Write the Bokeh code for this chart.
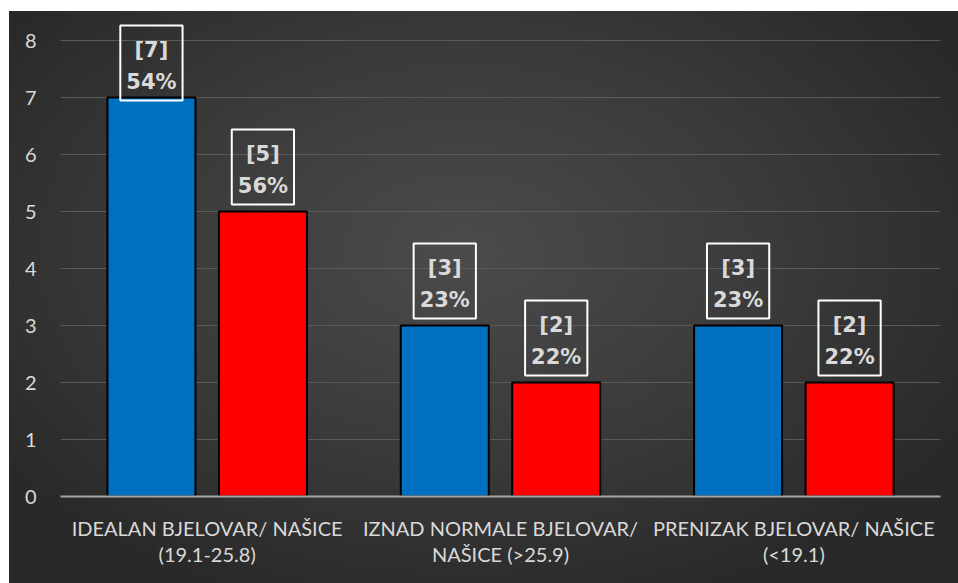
from bokeh.plotting import figure
from bokeh.models import FactorRange, Range1d, FixedTicker, ColumnDataSource
from bokeh.transform import dodge
from bokeh.core.properties import value
from bokeh.embed import file_html
from bokeh.resources import INLINE

categories = ["IDEALAN BJELOVAR/ NAŠICE\n(19.1-25.8)",
              "IZNAD NORMALE BJELOVAR/\nNAŠICE (>25.9)",
              "PRENIZAK BJELOVAR/ NAŠICE\n(<19.1)"]
bjelovar = [7, 3, 3]
nasice = [5, 2, 2]
bjelovar_pct = ["54%", "23%", "23%"]
nasice_pct = ["56%", "22%", "22%"]
y_ticks = [0, 1, 2, 3, 4, 5, 6, 7, 8]

TXT = "#d9d9d9"
PX_PER_UNIT = 57.0
Y_TOP = 8 + 17 / PX_PER_UNIT
BOX_H = 76

p = figure(x_range=FactorRange(*categories), y_range=Range1d(0, Y_TOP),
           width=949, height=572, output_backend="svg", toolbar_location=None,
           min_border_left=51, min_border_right=18, min_border_top=12, min_border_bottom=87)
p.margin = (11, 0, 0, 9)
p.background_fill_color = None
p.border_fill_color = None
p.outline_line_color = None
p.styles = {"background": "radial-gradient(ellipse 60% 65% at 48% 42%, #4b4b4b 0%, #3a3a3a 55%, #292929 100%)"}

def make_source(vals, pcts):
    labels = ["[%d]\n%s" % (v, s) for v, s in zip(vals, pcts)]
    offs = [max(-7.0, PX_PER_UNIT * v - (Y_TOP * PX_PER_UNIT - 1 - BOX_H)) for v in vals]
    return ColumnDataSource(dict(cat=categories, val=vals, label=labels, off=offs))

src_b = make_source(bjelovar, bjelovar_pct)
src_n = make_source(nasice, nasice_pct)

for src, d, col in ((src_b, -0.19, "#0070C0"), (src_n, 0.19, "#FF0000")):
    xd = dodge("cat", d, range=p.x_range)
    p.vbar(x=xd, top="val", width=0.30, source=src, fill_color=col,
           line_color="black", line_width=2)
    p.text(x=xd, y="val", text="label", source=src, y_offset="off",
           text_align="center", text_baseline="bottom",
           text_font=value("DejaVu Sans"), text_font_style="bold", text_font_size="21px",
           text_color=TXT, text_line_height=1.37,
           border_line_color="white", border_line_width=2,
           padding=dict(left=6, right=6, top=12, bottom=6))

p.yaxis.ticker = FixedTicker(ticks=y_ticks)
p.yaxis.axis_line_color = None
p.yaxis.major_tick_line_color = None
p.yaxis.minor_tick_line_color = None
p.yaxis.major_label_standoff = 18
p.yaxis.major_label_text_font = "Lato"
p.yaxis.major_label_text_font_size = "20px"
p.yaxis.major_label_text_color = TXT

p.xaxis.axis_line_color = "#a6a6a6"
p.xaxis.axis_line_width = 2
p.xaxis.major_tick_line_color = None
p.xaxis.minor_tick_line_color = None
p.xaxis.major_label_standoff = 13
p.xaxis.major_label_text_font = "Lato"
p.xaxis.major_label_text_font_size = "20px"
p.xaxis.major_label_text_line_height = 1.1
p.xaxis.major_label_text_color = TXT
p.xaxis.major_label_orientation = "horizontal"

p.xgrid.grid_line_color = None
p.ygrid.grid_line_color = "#5a5a5a"
p.ygrid.grid_line_width = 1

open("out.html", "w").write(file_html(p, INLINE))
